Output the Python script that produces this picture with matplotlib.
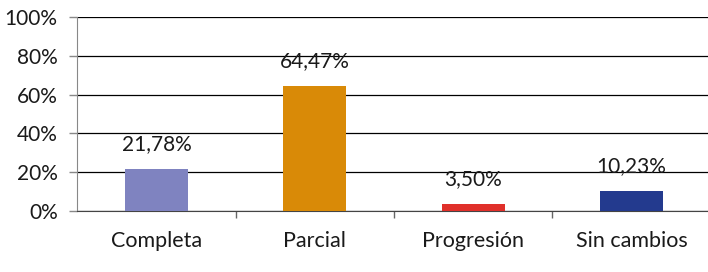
import matplotlib.pyplot as plt
from matplotlib.ticker import FixedLocator, NullFormatter

categories = ["Completa", "Parcial", "Progresión", "Sin cambios"]
values = [21.78, 64.47, 3.50, 10.23]
labels = ["21,78%", "64,47%", "3,50%", "10,23%"]
colors = ["#7f83c0", "#d98a07", "#e0302a", "#233a8e"]
yticks = [0, 20, 40, 60, 80, 100]

plt.rcParams["font.family"] = ["Lato", "DejaVu Sans"]

fig = plt.figure(figsize=(7.08, 2.72), dpi=100)
ax = fig.add_axes([0.109, 0.224, 0.895, 0.714])

x = range(len(categories))
ax.bar(x, values, width=0.4, color=colors, zorder=3)

for i, (v, lab) in enumerate(zip(values, labels)):
    ax.annotate(lab, (i, v), xytext=(0, 18), textcoords="offset points",
                ha="center", va="center", fontsize=15, color="#1a1a1a")

ax.set_xlim(-0.5, len(categories) - 0.5)
ax.set_ylim(0, 100)
ax.set_yticks(yticks)
ax.set_yticklabels([f"{t}%" for t in yticks], fontsize=15, color="#1a1a1a")
ax.yaxis.grid(True, color="black", linewidth=0.9, zorder=0)

ax.set_xticks(list(x))
ax.set_xticklabels(categories, fontsize=15.5, color="#1a1a1a")
ax.tick_params(axis="x", length=0, pad=14)
ax.xaxis.set_minor_locator(FixedLocator([0.5, 1.5, 2.5]))
ax.xaxis.set_minor_formatter(NullFormatter())
ax.tick_params(axis="x", which="minor", length=5, color="#666666", width=1)
ax.tick_params(axis="y", length=6, color="#888888", width=1, pad=8)

for s in ["top", "right"]:
    ax.spines[s].set_visible(False)
ax.spines["left"].set_color("#888888")
ax.spines["bottom"].set_color("#444444")

fig.savefig("out.png", dpi=100)
